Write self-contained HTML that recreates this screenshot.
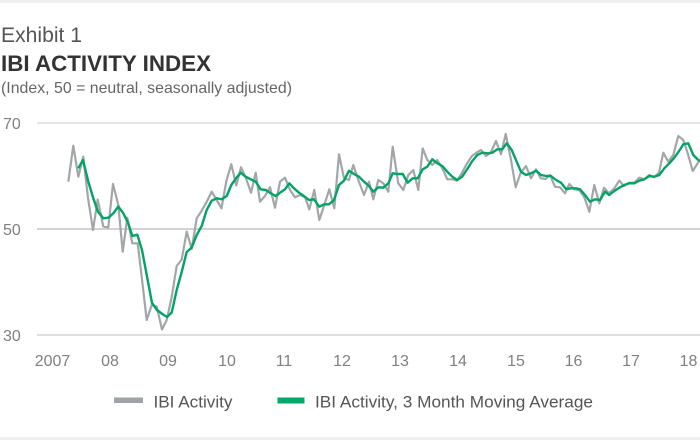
<!DOCTYPE html>
<html><head><meta charset="utf-8"><style>
html,body{margin:0;padding:0;background:#fff;}
svg{display:block;}
text{font-family:"Liberation Sans",Arial,sans-serif;}
</style></head><body>
<svg width="700" height="440" viewBox="0 0 700 440" xmlns="http://www.w3.org/2000/svg">
<rect x="0" y="0" width="700" height="440" fill="#fff"/>
<rect x="0" y="0" width="700" height="3" fill="#eeeeee"/>
<rect x="0" y="437" width="700" height="3" fill="#eeeeee"/>

<text x="1" y="42" font-size="21" fill="#555" textLength="81" lengthAdjust="spacingAndGlyphs">Exhibit 1</text>
<text x="1" y="71" font-size="22" font-weight="bold" fill="#333" textLength="210" lengthAdjust="spacingAndGlyphs">IBI ACTIVITY INDEX</text>
<text x="1" y="93" font-size="16" fill="#666" textLength="291" lengthAdjust="spacingAndGlyphs">(Index, 50 = neutral, seasonally adjusted)</text>

<line x1="37" y1="123" x2="700" y2="123" stroke="#dcdcdc" stroke-width="1.5"/>
<line x1="37" y1="229" x2="700" y2="229" stroke="#b8b8b8" stroke-width="1.2"/>
<line x1="37" y1="335" x2="700" y2="335" stroke="#d4d4d4" stroke-width="1.5"/>

<g font-size="16" fill="#808080">
<text x="3" y="129">70</text>
<text x="3" y="235">50</text>
<text x="3" y="341">30</text>
</g>
<g font-size="16" fill="#808080" text-anchor="middle">
<text x="52.5" y="366">2007</text>
<text x="110" y="366">08</text>
<text x="168" y="366">09</text>
<text x="227" y="366">10</text>
<text x="284" y="366">11</text>
<text x="342" y="366">12</text>
<text x="400" y="366">13</text>
<text x="458" y="366">14</text>
<text x="516" y="366">15</text>
<text x="573.5" y="366">16</text>
<text x="631" y="366">17</text>
<text x="688.5" y="366">18</text>
</g>

<polyline fill="none" stroke="#a3a6a9" stroke-width="2.2" stroke-linejoin="round" points="
68.3,181.7 73.3,145.7 78.3,176.7 83.3,156.7 88,198 93,230 97.7,199.5 103.3,226.5 108.3,227.3 113,184 118.3,205 122.7,251.7 127.3,217.7 132.3,243.3 137.7,243.3 142.3,282 146.7,320 151.7,305 156.7,306.5 162,329.5 166.7,320 171.7,297 176.7,266 181.7,259.5 186.7,231.7 191.7,249 196.7,218.3 201.7,210.7 206.7,201.7 211.7,191.7 216.7,200 221.5,208.3 226.3,181.2 231.3,164.2 236.3,185.5 241,167.3 246,178.3 251,192.7 255.7,172.7 260,201.7 265,196 270,187.3 275,207.7 280,181.7 285,177.7 290,190 295,197.3 300,195 305,197.3 309.3,209.3 314.3,190 319.3,220 324.3,205 329.3,189.3 334.3,208.3 339,154.3 344,178.3 349,180 353.3,165 358.3,180 364,195 369,181.7 373.3,199.3 378.3,180 383.3,183.3 388.3,191.7 392.7,146.7 398.3,183.3 403.3,190 408.3,175 413.3,170 418.3,190 422.7,148.3 427.3,160 432.3,165 437.3,160 442.3,168.3 447.3,179.3 452.3,179.3 457,180.7 461.7,173.3 466.7,164 471.7,156.3 476.7,152.5 481,150 486,156 490.7,152.7 496,141 501,154.3 505.7,134 510.7,158.3 515.7,187.3 520.7,172.7 526,166 531,178.3 536,169.3 540.7,178.3 545.7,179 550,175 555,186.7 560,187.3 565,193.3 569.3,184 574,189.3 579.3,190 584.3,197.3 589.3,211.7 594.3,185 599.3,203.3 604,187.7 609,193.3 614.3,188.3 619.3,180.7 624,186 629.3,182.7 634.3,182.7 639.3,177.7 644.3,179.3 649.3,175 654,177.3 659,172.7 663.3,152.7 668.3,161.7 673.3,155 678.3,136 683.3,140 687.7,153.3 692.7,171 697.7,163.3 700,160"/>

<polyline fill="none" stroke="#00a465" stroke-width="2.4" stroke-linejoin="round" points="
78.3,168.3 83,160 88.3,181.7 93.3,198.3 98,211.7 103.3,218.3 108.8,217.5 113.3,213.3 118.3,206.5 123.3,213.3 128.3,223.3 132.3,236 137.3,234.7 142,250 147.3,278 152,303 157,310 162.3,314 167,317 171.7,312.5 176.7,290 181.7,272 186.7,252 191.7,247.5 196.7,235 201.7,226 206.7,210 211.7,200.7 216.7,198.3 221.7,199.3 226.7,196 231.3,185 236,178.3 240.7,172.7 245.7,176.7 250.7,179.3 255.7,181.7 260.7,189.3 265.7,190 270.7,193.3 275.7,196 280,192.7 285,189.3 289.3,183.3 294,188.3 299,192.7 304,196 309,200 314,199.3 319.3,206.7 324,204.3 329,204.3 334,200 339,185 344,180.7 349,170.7 354,174 359,176.7 364,181.7 369,186 373.3,191.7 378.3,187.3 383.3,187.7 388.3,183.3 392.7,173.3 397.7,174 402.7,174 407.7,182.7 412.7,178.3 417.7,178.3 422.7,169.3 427.3,166.7 432.3,159.3 437.3,163.3 442.3,166 447.3,171.7 452.3,176.7 457.3,180 462.3,176.5 467.3,169 472.3,161 477.3,155 482.3,152.7 487.3,153.3 492.3,152.7 497.3,149.3 502.3,149.3 506.7,143.3 511.7,150 516.7,161.7 521,171.7 526,175 531,173.3 536,170.7 541,175 546,176 551,176 556,180 561,182.7 566,189 571,188.3 576,188.3 580,189.3 585,195 590,201.7 595,199.3 600,200 605,191.7 609.3,195 614.3,191 619.3,187.7 624.3,185 629.3,183.3 634.3,183.3 639.3,180.7 644.3,179.3 649.3,176 654.3,176.7 659.3,175 664.3,168.3 669.3,163.3 674.3,157.7 679.3,150.7 683.3,144.3 688.3,143.3 693.3,155 698.3,160 700,161"/>

<rect x="114" y="397.5" width="29" height="5.5" fill="#9ea3a8"/>
<text x="153.5" y="407.5" font-size="17" fill="#555" textLength="79" lengthAdjust="spacingAndGlyphs">IBI Activity</text>
<rect x="277.5" y="397.5" width="27" height="6" fill="#00a86b"/>
<text x="315" y="407.5" font-size="17" fill="#555" textLength="278" lengthAdjust="spacingAndGlyphs">IBI Activity, 3 Month Moving Average</text>
</svg>
</body></html>
